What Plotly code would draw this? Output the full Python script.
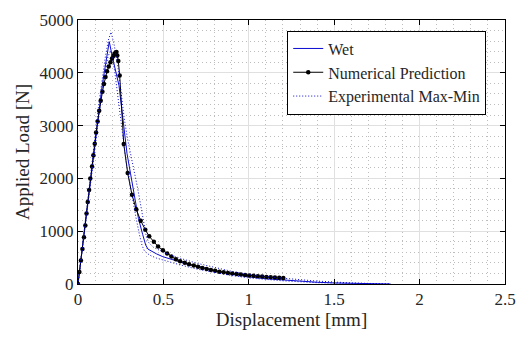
import plotly.graph_objects as go

# ---- data ----
num_x = [0, 0.008, 0.017, 0.026, 0.035, 0.043, 0.050, 0.057, 0.065, 0.072, 0.082, 0.090, 0.098, 0.106,
         0.115, 0.124, 0.133, 0.143, 0.152, 0.161, 0.170, 0.180, 0.190, 0.199, 0.207, 0.214, 0.220,
         0.225, 0.230, 0.236, 0.244, 0.268, 0.291, 0.316, 0.341, 0.367, 0.394, 0.417, 0.444, 0.469,
         0.497, 0.522, 0.547, 0.573, 0.598, 0.625, 0.650, 0.678, 0.703, 0.728, 0.753, 0.778, 0.803,
         0.828, 0.853, 0.878, 0.903, 0.928, 0.953, 0.978, 1.003, 1.028, 1.053, 1.078, 1.103, 1.128,
         1.153, 1.178, 1.202]
num_y = [0, 225, 445, 665, 885, 1110, 1335, 1555, 1780, 2000, 2225, 2440, 2655, 2870,
         3080, 3280, 3470, 3640, 3790, 3920, 4030, 4120, 4200, 4270, 4320, 4360, 4385,
         4395, 4330, 4225, 3950, 2650, 2100, 1690, 1415, 1200, 1028, 904, 800, 710,
         640, 578, 520, 470, 430, 402, 375, 350, 325, 303, 283, 265, 249,
         234, 221, 209, 198, 188, 178, 170, 162, 154, 147, 140, 134, 128,
         122, 117, 112]

wet_x = [0, 0.02, 0.04, 0.06, 0.08, 0.10, 0.12, 0.14, 0.155, 0.17, 0.183, 0.20, 0.221, 0.24, 0.256,
         0.272, 0.287, 0.307, 0.326, 0.354, 0.379, 0.396, 0.41, 0.43, 0.46, 0.497, 0.55, 0.593, 0.65,
         0.722, 0.8, 0.9, 1.0, 1.1, 1.2, 1.3, 1.4, 1.5, 1.6, 1.7, 1.83]
wet_y = [0, 530, 1060, 1600, 2160, 2720, 3260, 3720, 4030, 4360, 4590, 4320, 4010, 3760, 3320,
         2840, 2470, 2100, 1734, 1240, 935, 740, 660, 620, 570, 517, 460, 412, 365,
         320, 255, 190, 135, 100, 75, 52, 33, 20, 11, 5, 0]

exp_max_x = [0, 0.02, 0.04, 0.06, 0.08, 0.10, 0.12, 0.14, 0.16, 0.178, 0.193, 0.21, 0.23, 0.25, 0.27,
             0.29, 0.31, 0.33, 0.35, 0.375, 0.40, 0.415, 0.44, 0.5, 0.6, 0.7, 0.8, 0.9, 1.0, 1.2,
             1.4, 1.6, 1.83]
exp_max_y = [0, 540, 1090, 1650, 2230, 2800, 3360, 3870, 4300, 4620, 4770, 4560, 4200, 3700, 3150,
             2750, 2450, 2150, 1800, 1350, 900, 780, 700, 600, 485, 390, 310, 240, 180, 110,
             55, 20, 0]

exp_min_x = [0, 0.02, 0.04, 0.06, 0.08, 0.10, 0.12, 0.14, 0.16, 0.175, 0.19, 0.205, 0.22, 0.24, 0.26,
             0.28, 0.30, 0.32, 0.34, 0.36, 0.375, 0.39, 0.42, 0.46, 0.5, 0.6, 0.7, 0.8, 0.9, 1.0,
             1.2, 1.4, 1.6, 1.83]
exp_min_y = [0, 510, 1030, 1550, 2080, 2620, 3140, 3620, 4040, 4300, 4420, 4250, 3900, 3350, 2800,
             2350, 1980, 1600, 1250, 930, 730, 620, 545, 490, 450, 360, 280, 215, 160, 115,
             60, 25, 8, 0]

x_ticks = [0, 0.5, 1, 1.5, 2, 2.5]
x_tick_labels = ["0", "0.5", "1", "1.5", "2", "2.5"]
y_ticks = [0, 1000, 2000, 3000, 4000, 5000]
y_tick_labels = ["0", "1000", "2000", "3000", "4000", "5000"]

BLUE = "rgb(10,10,210)"
FONT = "Liberation Serif, Times New Roman, serif"
TXT = "#262626"

fig = go.Figure()
fig.add_trace(go.Scatter(x=wet_x, y=wet_y, mode="lines", name="Wet",
                         line=dict(color=BLUE, width=1)))
fig.add_trace(go.Scatter(x=num_x, y=num_y, mode="lines+markers", name="Numerical Prediction",
                         line=dict(color="black", width=1),
                         marker=dict(color="black", size=4.5, symbol="circle")))
fig.add_trace(go.Scatter(x=exp_max_x, y=exp_max_y, mode="lines", name="Experimental Max-Min",
                         line=dict(color=BLUE, width=1, dash="1px,2px")))
fig.add_trace(go.Scatter(x=exp_min_x, y=exp_min_y, mode="lines", name="Experimental Min",
                         showlegend=False, line=dict(color=BLUE, width=1, dash="1px,2px")))

axis_common = dict(
    showline=True, linecolor="black", linewidth=1, mirror="ticks",
    ticks="inside", ticklen=5, tickcolor="black",
    showgrid=True, gridcolor="#e0e0e0", gridwidth=1,
    zeroline=False,
    tickfont=dict(family=FONT, size=17, color=TXT),
)

fig.update_xaxes(range=[0, 2.5], tickvals=x_ticks, ticktext=x_tick_labels,
                 minor=dict(dtick=0.1, showgrid=True, gridcolor="#bdbdbd", griddash="1px,3px", gridwidth=1),
                 title=dict(text="Displacement [mm]", font=dict(family=FONT, size=19, color=TXT), standoff=2),
                 **axis_common)
fig.update_yaxes(range=[0, 5000], tickvals=y_ticks, ticktext=y_tick_labels,
                 minor=dict(dtick=200, showgrid=True, gridcolor="#bdbdbd", griddash="1px,3px", gridwidth=1),
                 title=dict(text="Applied Load [N]", font=dict(family=FONT, size=19, color=TXT), standoff=4),
                 **axis_common)

fig.update_layout(
    width=527, height=338,
    margin=dict(l=78, r=11, t=13, b=54),
    paper_bgcolor="white", plot_bgcolor="white",
    showlegend=True,
    legend=dict(x=0.49, y=0.96, xanchor="left", yanchor="top",
                bgcolor="white", bordercolor="black", borderwidth=1,
                font=dict(family=FONT, size=16, color=TXT),
                tracegroupgap=0, itemwidth=30),
)

fig.write_html("out.html")
